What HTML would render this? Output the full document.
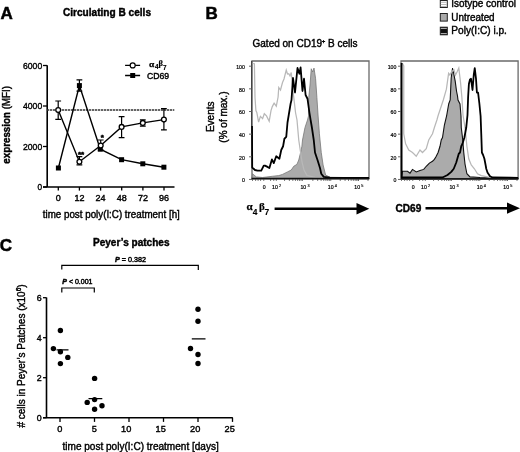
<!DOCTYPE html>
<html><head><meta charset="utf-8"><style>
html,body{margin:0;padding:0;background:#fff;}
svg{display:block;font-family:"Liberation Sans",sans-serif;will-change:transform;stroke-width:0.4px;}
text{stroke:#000;}
text.nb{stroke:none;}
</style></head><body>
<svg width="520" height="452" viewBox="0 0 520 452">
<rect width="520" height="452" fill="#fff"/>
<text x="0.4" y="18.6" font-size="17" font-weight="bold" stroke-width="0.5">A</text>
<text x="63" y="15.5" font-size="10" font-weight="bold" textLength="88" lengthAdjust="spacingAndGlyphs">Circulating B cells</text>
<path d="M47.2 65.3 V187 M43 187 H174.5" stroke="#000" stroke-width="1.6" fill="none"/>
<path d="M43 65.50 H47" stroke="#000" stroke-width="1.3"/>
<text x="23.00" y="68.90" font-size="9.8" textLength="19.2" lengthAdjust="spacingAndGlyphs">6000</text>
<path d="M43 106.00 H47" stroke="#000" stroke-width="1.3"/>
<text x="23.00" y="109.40" font-size="9.8" textLength="19.2" lengthAdjust="spacingAndGlyphs">4000</text>
<path d="M43 146.50 H47" stroke="#000" stroke-width="1.3"/>
<text x="23.00" y="149.90" font-size="9.8" textLength="19.2" lengthAdjust="spacingAndGlyphs">2000</text>
<path d="M43 187.00 H47" stroke="#000" stroke-width="1.3"/>
<text x="37.60" y="190.40" font-size="9.8" textLength="4.6" lengthAdjust="spacingAndGlyphs">0</text>
<path d="M58.3 187 V190.6" stroke="#000" stroke-width="1.3"/>
<text x="58.3" y="200.8" font-size="9" text-anchor="middle">0</text>
<path d="M79.4 187 V190.6" stroke="#000" stroke-width="1.3"/>
<text x="79.4" y="200.8" font-size="9" text-anchor="middle">12</text>
<path d="M100.6 187 V190.6" stroke="#000" stroke-width="1.3"/>
<text x="100.6" y="200.8" font-size="9" text-anchor="middle">24</text>
<path d="M121.7 187 V190.6" stroke="#000" stroke-width="1.3"/>
<text x="121.7" y="200.8" font-size="9" text-anchor="middle">48</text>
<path d="M142.9 187 V190.6" stroke="#000" stroke-width="1.3"/>
<text x="142.9" y="200.8" font-size="9" text-anchor="middle">72</text>
<path d="M164.0 187 V190.6" stroke="#000" stroke-width="1.3"/>
<text x="164.0" y="200.8" font-size="9" text-anchor="middle">96</text>
<text x="42.8" y="217.6" font-size="10" textLength="137" lengthAdjust="spacingAndGlyphs">time post poly(I:C) treatment [h]</text>
<text transform="translate(9.6,163.7) rotate(-90)" font-size="10" font-weight="bold" textLength="77.7" lengthAdjust="spacingAndGlyphs">expression <tspan font-weight="normal">(MFI)</tspan></text>
<path d="M47 110 H174.3" stroke="#333" stroke-width="1.5" stroke-dasharray="2.3 0.7" fill="none"/>
<polyline points="58.20,110.00 79.40,161.70 100.70,145.50 121.60,126.90 142.80,122.90 163.90,119.60" fill="none" stroke="#000" stroke-width="1.4"/>
<polyline points="58.40,168.00 79.40,85.60 100.30,149.20 121.60,159.70 142.80,163.80 163.90,167.20" fill="none" stroke="#000" stroke-width="1.4"/>
<path d="M58.2 101 V119.3 M55.300000000000004 101 H61.1 M55.300000000000004 119.3 H61.1" stroke="#000" stroke-width="1.2" fill="none"/>
<path d="M79.4 156.7 V164.8 M76.5 156.7 H82.30000000000001 M76.5 164.8 H82.30000000000001" stroke="#000" stroke-width="1.2" fill="none"/>
<path d="M100.7 140 V150 M97.8 140 H103.60000000000001 M97.8 150 H103.60000000000001" stroke="#000" stroke-width="1.2" fill="none"/>
<path d="M121.6 116.6 V137.6 M118.69999999999999 116.6 H124.5 M118.69999999999999 137.6 H124.5" stroke="#000" stroke-width="1.2" fill="none"/>
<path d="M142.8 119.9 V126.2 M139.9 119.9 H145.70000000000002 M139.9 126.2 H145.70000000000002" stroke="#000" stroke-width="1.2" fill="none"/>
<path d="M163.9 108.6 V129.9 M161.0 108.6 H166.8 M161.0 129.9 H166.8" stroke="#000" stroke-width="1.2" fill="none"/>
<path d="M79.4 79.8 V91.2 M76.5 79.8 H82.30000000000001 M76.5 91.2 H82.30000000000001" stroke="#000" stroke-width="1.2" fill="none"/>
<rect x="55.9" y="165.5" width="5" height="5" fill="#000"/>
<rect x="76.9" y="83.1" width="5" height="5" fill="#000"/>
<rect x="97.8" y="146.7" width="5" height="5" fill="#000"/>
<rect x="119.1" y="157.2" width="5" height="5" fill="#000"/>
<rect x="140.3" y="161.3" width="5" height="5" fill="#000"/>
<rect x="161.4" y="164.7" width="5" height="5" fill="#000"/>
<circle cx="58.2" cy="110.0" r="2.4" fill="#fff" stroke="#000" stroke-width="1.3"/>
<circle cx="79.4" cy="161.7" r="2.4" fill="#fff" stroke="#000" stroke-width="1.3"/>
<circle cx="100.7" cy="145.5" r="2.4" fill="#fff" stroke="#000" stroke-width="1.3"/>
<circle cx="121.6" cy="126.9" r="2.4" fill="#fff" stroke="#000" stroke-width="1.3"/>
<circle cx="142.8" cy="122.9" r="2.4" fill="#fff" stroke="#000" stroke-width="1.3"/>
<circle cx="163.9" cy="119.6" r="2.4" fill="#fff" stroke="#000" stroke-width="1.3"/>
<text x="81.1" y="156.6" font-size="8" font-weight="bold" stroke-width="0.5" text-anchor="middle">**</text>
<text x="102.2" y="139.5" font-size="8" font-weight="bold" stroke-width="0.5" text-anchor="middle">*</text>
<path d="M125.1 65.4 H140.1 M125.1 75.5 H140.1" stroke="#000" stroke-width="1.3"/>
<circle cx="132.7" cy="65.4" r="2.5" fill="#fff" stroke="#000" stroke-width="1.2"/>
<rect x="130.2" y="73" width="5" height="5" fill="#000"/>
<text x="148.9" y="66.6" font-size="7.6" font-family="Liberation Serif" font-weight="bold" stroke-width="0.25" textLength="5.3" lengthAdjust="spacingAndGlyphs">&#945;</text><text x="155.0" y="69.2" font-size="6.4" font-weight="bold" stroke-width="0.15">4</text><text x="158.6" y="66.2" font-size="8.5" font-family="Liberation Serif" font-weight="bold" stroke-width="0.15">&#946;</text><text x="163.0" y="69.5" font-size="6.4" font-weight="bold" stroke-width="0.15">7</text>
<text x="147" y="78.6" font-size="8.6" textLength="22.2" lengthAdjust="spacingAndGlyphs">CD69</text>
<text x="205.6" y="18.6" font-size="17" font-weight="bold" stroke-width="0.5">B</text>
<text x="252.5" y="47" font-size="10" textLength="105" lengthAdjust="spacingAndGlyphs">Gated on CD19<tspan font-size="5.5" dy="-4.3">+</tspan><tspan dy="4.3"> B cells</tspan></text>
<text transform="translate(214.4,116.8) rotate(-90)" font-size="10" text-anchor="middle">Events</text>
<text transform="translate(226.6,117.1) rotate(-90)" font-size="10" text-anchor="middle">(% of max.)</text>
<rect x="440.3" y="0.5" width="7" height="7" fill="#fff" stroke="#222" stroke-width="1"/>
<path d="M440.8 2.3 H446.8 M440.8 4.5 H446.8 M440.8 6.5 H446.8" stroke="#bbb" stroke-width="1"/>
<rect x="440.3" y="13.5" width="7" height="7.6" fill="#aaa" stroke="#222" stroke-width="1"/>
<rect x="440.3" y="27.2" width="7" height="7.6" fill="#111" stroke="#222" stroke-width="1"/>
<path d="M440.8 28.5 H446.8 M440.8 33.5 H446.8" stroke="#aaa" stroke-width="1"/>
<text x="451.3" y="7.0" font-size="10" textLength="64.6" lengthAdjust="spacingAndGlyphs">Isotype control</text>
<text x="451.3" y="21.2" font-size="10" textLength="43.3" lengthAdjust="spacingAndGlyphs">Untreated</text>
<text x="451.3" y="34.3" font-size="10" textLength="55.6" lengthAdjust="spacingAndGlyphs">Poly(I:C) i.p.</text>
<path d="M252.0 178.8 V61.0 H369.0 V178.8" fill="none" stroke="#6a6a6a" stroke-width="1.3"/>
<polygon points="252.00,178.80 252.50,173.75 256.25,176.90 262.50,177.50 272.50,176.25 278.75,175.60 282.50,174.40 287.50,171.90 291.25,170.00 293.75,166.25 296.90,164.40 298.75,160.00 300.60,152.50 301.90,146.25 302.50,140.00 305.00,127.50 307.50,120.00 308.50,116.00 308.75,97.50 310.00,85.00 311.25,68.75 312.70,72.00 314.00,68.10 315.60,78.75 316.90,97.50 318.10,116.00 319.40,133.75 321.25,152.50 323.10,165.00 325.60,175.00 330.00,177.25 369.00,178.00 369.00,178.80" fill="#ababab" stroke="#777" stroke-width="0.8"/>
<polyline points="252.30,63.50 254.40,63.75 255.00,97.50 255.90,110.60 256.80,112.40 258.60,122.10 260.40,116.40 262.60,118.60 264.30,113.70 266.50,115.90 269.20,121.20 271.00,110.60 272.30,106.60 274.10,103.10 276.30,106.20 278.10,97.00 278.75,87.50 280.50,90.00 282.50,82.50 284.00,79.00 286.25,70.00 287.50,74.00 288.75,73.75 290.00,76.00 291.25,72.50 293.00,91.00 295.60,113.00 297.00,120.00 298.75,140.00 300.60,152.50 302.00,162.00 304.00,170.00 307.00,175.50 315.00,177.30 369.00,177.60" fill="none" stroke="#b8b8b8" stroke-width="1.25"/>
<polyline points="252.00,126.00 252.20,167.50 255.00,170.00 257.50,170.60 261.25,170.60 263.75,165.60 265.00,165.60 267.50,166.90 269.40,168.10 271.90,159.40 273.75,163.10 276.25,156.25 279.40,158.75 281.25,150.00 283.10,146.25 284.40,138.75 286.25,136.90 287.50,122.50 288.75,115.00 290.60,103.75 291.50,100.00 293.00,78.00 295.00,92.50 297.50,68.00 299.40,73.75 300.60,67.50 302.50,91.00 304.00,78.75 305.60,95.00 307.50,98.75 309.40,112.50 310.60,120.00 311.90,127.50 313.75,140.00 315.00,152.50 317.50,160.00 320.00,168.00 321.25,173.75 323.75,176.90 330.00,177.60 369.00,177.80" fill="none" stroke="#000" stroke-width="1.8" stroke-linejoin="round"/>
<path d="M251.6 126 V61" stroke="#444" stroke-width="1.2"/>
<path d="M251.5 178.6 H369.3" stroke="#111" stroke-width="1.6"/>
<path d="M401.0 178.8 V61.0 H518.1 V178.8" fill="none" stroke="#6a6a6a" stroke-width="1.3"/>
<polygon points="401.50,178.80 402.50,171.25 407.50,171.25 410.00,173.10 412.50,169.40 416.25,171.90 420.00,170.60 423.75,169.40 426.25,166.25 429.40,163.10 432.50,161.25 434.40,159.40 436.25,156.25 438.10,152.50 440.00,146.25 441.25,140.00 442.50,137.50 444.40,125.00 446.60,116.00 448.75,103.75 450.20,100.00 450.80,86.50 451.20,77.70 452.60,68.00 454.00,75.00 455.20,81.20 456.50,91.00 457.50,96.00 458.00,100.00 460.00,104.00 461.00,116.00 461.25,127.50 462.50,137.50 463.75,152.50 465.00,164.00 466.90,173.75 470.00,176.90 480.00,177.50 518.00,178.00 518.00,178.80" fill="#ababab" stroke="#111" stroke-width="1.1"/>
<polyline points="402.30,63.00 403.75,66.00 403.75,133.75 405.60,143.75 408.75,150.00 412.50,152.50 416.25,156.25 420.00,150.00 422.50,152.50 426.25,148.75 428.75,140.00 432.50,133.75 434.40,127.50 436.90,120.00 438.00,116.00 443.30,100.00 446.40,89.20 448.60,73.30 449.90,75.00 451.50,72.00 453.90,69.70 455.50,75.00 457.00,72.00 458.80,68.00 460.50,82.10 461.90,97.50 463.00,115.00 465.00,127.50 466.90,146.25 468.75,158.75 471.25,165.00 474.40,168.75 477.50,173.75 481.25,175.60 490.00,177.30 518.00,177.60" fill="none" stroke="#b8b8b8" stroke-width="1.25"/>
<polyline points="401.60,63.00 401.60,177.50 442.50,177.50 447.50,175.00 451.25,171.90 453.75,168.75 456.25,162.50 458.75,153.75 460.00,152.50 461.25,146.25 462.50,143.75 464.40,137.50 466.25,127.50 467.50,115.00 468.10,97.50 468.90,84.00 470.00,79.40 471.00,78.75 472.50,90.00 473.75,75.00 474.75,68.10 476.00,78.75 476.90,92.50 478.10,92.75 479.40,103.75 480.60,116.00 481.25,133.75 481.90,152.50 483.10,155.00 484.40,158.75 485.60,165.00 486.25,168.75 487.50,172.50 490.00,176.25 492.50,177.50 518.00,177.80" fill="none" stroke="#000" stroke-width="1.8" stroke-linejoin="round"/>
<path d="M400.5 179 H518.4" stroke="#111" stroke-width="1.6"/>
<text x="244.8" y="69.10" font-size="5.2" stroke-width="0.2" text-anchor="end">100</text>
<path d="M249.0 66.20 H252.0" stroke="#555" stroke-width="0.9"/>
<text x="244.8" y="91.75" font-size="5.2" stroke-width="0.2" text-anchor="end">80</text>
<path d="M249.0 88.85 H252.0" stroke="#555" stroke-width="0.9"/>
<text x="244.8" y="114.40" font-size="5.2" stroke-width="0.2" text-anchor="end">60</text>
<path d="M249.0 111.50 H252.0" stroke="#555" stroke-width="0.9"/>
<text x="244.8" y="137.05" font-size="5.2" stroke-width="0.2" text-anchor="end">40</text>
<path d="M249.0 134.15 H252.0" stroke="#555" stroke-width="0.9"/>
<text x="244.8" y="159.70" font-size="5.2" stroke-width="0.2" text-anchor="end">20</text>
<path d="M249.0 156.80 H252.0" stroke="#555" stroke-width="0.9"/>
<text x="244.8" y="182.35" font-size="5.2" stroke-width="0.2" text-anchor="end">0</text>
<path d="M249.0 179.45 H252.0" stroke="#555" stroke-width="0.9"/>
<text x="396.3" y="69.10" font-size="5.2" stroke-width="0.2" text-anchor="end">100</text>
<path d="M398.0 66.20 H401.0" stroke="#555" stroke-width="0.9"/>
<text x="396.3" y="91.75" font-size="5.2" stroke-width="0.2" text-anchor="end">80</text>
<path d="M398.0 88.85 H401.0" stroke="#555" stroke-width="0.9"/>
<text x="396.3" y="114.40" font-size="5.2" stroke-width="0.2" text-anchor="end">60</text>
<path d="M398.0 111.50 H401.0" stroke="#555" stroke-width="0.9"/>
<text x="396.3" y="137.05" font-size="5.2" stroke-width="0.2" text-anchor="end">40</text>
<path d="M398.0 134.15 H401.0" stroke="#555" stroke-width="0.9"/>
<text x="396.3" y="159.70" font-size="5.2" stroke-width="0.2" text-anchor="end">20</text>
<path d="M398.0 156.80 H401.0" stroke="#555" stroke-width="0.9"/>
<text x="396.3" y="182.35" font-size="5.2" stroke-width="0.2" text-anchor="end">0</text>
<path d="M398.0 179.45 H401.0" stroke="#555" stroke-width="0.9"/>
<text x="264.20" y="189.4" font-size="5.2" stroke-width="0.2" text-anchor="middle">0</text>
<text x="275.00" y="189.4" font-size="5.2" stroke-width="0.2" text-anchor="middle">10</text>
<text x="279.10" y="186.6" font-size="3.8" stroke-width="0.15">2</text>
<text x="303.30" y="189.4" font-size="5.2" stroke-width="0.2" text-anchor="middle">10</text>
<text x="307.40" y="186.6" font-size="3.8" stroke-width="0.15">3</text>
<text x="330.70" y="189.4" font-size="5.2" stroke-width="0.2" text-anchor="middle">10</text>
<text x="334.80" y="186.6" font-size="3.8" stroke-width="0.15">4</text>
<text x="357.20" y="189.4" font-size="5.2" stroke-width="0.2" text-anchor="middle">10</text>
<text x="361.30" y="186.6" font-size="3.8" stroke-width="0.15">5</text>
<path d="M252.50 179 V181" stroke="#444" stroke-width="0.7"/>
<path d="M255.60 179 V181" stroke="#444" stroke-width="0.7"/>
<path d="M258.10 179 V181" stroke="#444" stroke-width="0.7"/>
<path d="M260.60 179 V181" stroke="#444" stroke-width="0.7"/>
<path d="M263.75 179 V181" stroke="#444" stroke-width="0.7"/>
<path d="M270.60 179 V181" stroke="#444" stroke-width="0.7"/>
<path d="M273.75 179 V181" stroke="#444" stroke-width="0.7"/>
<path d="M276.30 179 V181" stroke="#444" stroke-width="0.7"/>
<path d="M284.55 179 V181" stroke="#444" stroke-width="0.7"/>
<path d="M289.37 179 V181" stroke="#444" stroke-width="0.7"/>
<path d="M292.80 179 V181" stroke="#444" stroke-width="0.7"/>
<path d="M295.45 179 V181" stroke="#444" stroke-width="0.7"/>
<path d="M297.62 179 V181" stroke="#444" stroke-width="0.7"/>
<path d="M299.46 179 V181" stroke="#444" stroke-width="0.7"/>
<path d="M301.04 179 V181" stroke="#444" stroke-width="0.7"/>
<path d="M302.45 179 V181" stroke="#444" stroke-width="0.7"/>
<path d="M312.85 179 V181" stroke="#444" stroke-width="0.7"/>
<path d="M317.67 179 V181" stroke="#444" stroke-width="0.7"/>
<path d="M321.10 179 V181" stroke="#444" stroke-width="0.7"/>
<path d="M323.75 179 V181" stroke="#444" stroke-width="0.7"/>
<path d="M325.92 179 V181" stroke="#444" stroke-width="0.7"/>
<path d="M327.76 179 V181" stroke="#444" stroke-width="0.7"/>
<path d="M329.34 179 V181" stroke="#444" stroke-width="0.7"/>
<path d="M330.75 179 V181" stroke="#444" stroke-width="0.7"/>
<path d="M340.25 179 V181" stroke="#444" stroke-width="0.7"/>
<path d="M345.07 179 V181" stroke="#444" stroke-width="0.7"/>
<path d="M348.50 179 V181" stroke="#444" stroke-width="0.7"/>
<path d="M351.15 179 V181" stroke="#444" stroke-width="0.7"/>
<path d="M353.32 179 V181" stroke="#444" stroke-width="0.7"/>
<path d="M355.16 179 V181" stroke="#444" stroke-width="0.7"/>
<path d="M356.74 179 V181" stroke="#444" stroke-width="0.7"/>
<path d="M358.15 179 V181" stroke="#444" stroke-width="0.7"/>
<path d="M358.50 179 V181" stroke="#444" stroke-width="0.7"/>
<path d="M368.00 179 V181" stroke="#444" stroke-width="0.7"/>
<text x="413.20" y="189.4" font-size="5.2" stroke-width="0.2" text-anchor="middle">0</text>
<text x="424.00" y="189.4" font-size="5.2" stroke-width="0.2" text-anchor="middle">10</text>
<text x="428.10" y="186.6" font-size="3.8" stroke-width="0.15">2</text>
<text x="452.30" y="189.4" font-size="5.2" stroke-width="0.2" text-anchor="middle">10</text>
<text x="456.40" y="186.6" font-size="3.8" stroke-width="0.15">3</text>
<text x="479.70" y="189.4" font-size="5.2" stroke-width="0.2" text-anchor="middle">10</text>
<text x="483.80" y="186.6" font-size="3.8" stroke-width="0.15">4</text>
<text x="506.20" y="189.4" font-size="5.2" stroke-width="0.2" text-anchor="middle">10</text>
<text x="510.30" y="186.6" font-size="3.8" stroke-width="0.15">5</text>
<path d="M401.50 179 V181" stroke="#444" stroke-width="0.7"/>
<path d="M404.60 179 V181" stroke="#444" stroke-width="0.7"/>
<path d="M407.10 179 V181" stroke="#444" stroke-width="0.7"/>
<path d="M409.60 179 V181" stroke="#444" stroke-width="0.7"/>
<path d="M412.75 179 V181" stroke="#444" stroke-width="0.7"/>
<path d="M419.60 179 V181" stroke="#444" stroke-width="0.7"/>
<path d="M422.75 179 V181" stroke="#444" stroke-width="0.7"/>
<path d="M425.30 179 V181" stroke="#444" stroke-width="0.7"/>
<path d="M433.55 179 V181" stroke="#444" stroke-width="0.7"/>
<path d="M438.37 179 V181" stroke="#444" stroke-width="0.7"/>
<path d="M441.80 179 V181" stroke="#444" stroke-width="0.7"/>
<path d="M444.45 179 V181" stroke="#444" stroke-width="0.7"/>
<path d="M446.62 179 V181" stroke="#444" stroke-width="0.7"/>
<path d="M448.46 179 V181" stroke="#444" stroke-width="0.7"/>
<path d="M450.04 179 V181" stroke="#444" stroke-width="0.7"/>
<path d="M451.45 179 V181" stroke="#444" stroke-width="0.7"/>
<path d="M461.85 179 V181" stroke="#444" stroke-width="0.7"/>
<path d="M466.67 179 V181" stroke="#444" stroke-width="0.7"/>
<path d="M470.10 179 V181" stroke="#444" stroke-width="0.7"/>
<path d="M472.75 179 V181" stroke="#444" stroke-width="0.7"/>
<path d="M474.92 179 V181" stroke="#444" stroke-width="0.7"/>
<path d="M476.76 179 V181" stroke="#444" stroke-width="0.7"/>
<path d="M478.34 179 V181" stroke="#444" stroke-width="0.7"/>
<path d="M479.75 179 V181" stroke="#444" stroke-width="0.7"/>
<path d="M489.25 179 V181" stroke="#444" stroke-width="0.7"/>
<path d="M494.07 179 V181" stroke="#444" stroke-width="0.7"/>
<path d="M497.50 179 V181" stroke="#444" stroke-width="0.7"/>
<path d="M500.15 179 V181" stroke="#444" stroke-width="0.7"/>
<path d="M502.32 179 V181" stroke="#444" stroke-width="0.7"/>
<path d="M504.16 179 V181" stroke="#444" stroke-width="0.7"/>
<path d="M505.74 179 V181" stroke="#444" stroke-width="0.7"/>
<path d="M507.15 179 V181" stroke="#444" stroke-width="0.7"/>
<path d="M507.50 179 V181" stroke="#444" stroke-width="0.7"/>
<path d="M517.00 179 V181" stroke="#444" stroke-width="0.7"/>
<text x="246.4" y="210.3" font-size="10.5" font-family="Liberation Serif" font-weight="bold" stroke-width="0.25" textLength="6.2" lengthAdjust="spacingAndGlyphs">&#945;</text><text x="252.8" y="214.8" font-size="8.4" font-weight="bold" stroke-width="0.15">4</text><text x="258.9" y="210.4" font-size="11" font-family="Liberation Serif" font-weight="bold" stroke-width="0.2">&#946;</text><text x="264.4" y="214.8" font-size="8.4" font-weight="bold" stroke-width="0.15">7</text>
<path d="M274.6 208.7 H358" stroke="#000" stroke-width="2.6"/>
<polygon points="356.5,203 369.3,208.7 356.5,214.5" fill="#000"/>
<text x="395.5" y="212.2" font-size="10" font-weight="bold" textLength="25.8" lengthAdjust="spacingAndGlyphs">CD69</text>
<path d="M425.5 208.2 H508" stroke="#000" stroke-width="2.6"/>
<polygon points="507,202.5 520,208.2 507,213.8" fill="#000"/>
<text x="-0.3" y="250.8" font-size="17" font-weight="bold" stroke-width="0.5">C</text>
<text x="93" y="245.8" font-size="10" font-weight="bold" textLength="76.5" lengthAdjust="spacingAndGlyphs">Peyer&#8217;s patches</text>
<path d="M46.5 297.5 V417.7 M43 417.7 H232.8" stroke="#000" stroke-width="1.6" fill="none"/>
<path d="M43 297.70 H46.5" stroke="#000" stroke-width="1.3"/>
<text x="41.6" y="300.80" font-size="8.8" text-anchor="end">6</text>
<path d="M43 337.70 H46.5" stroke="#000" stroke-width="1.3"/>
<text x="41.6" y="340.80" font-size="8.8" text-anchor="end">4</text>
<path d="M43 377.70 H46.5" stroke="#000" stroke-width="1.3"/>
<text x="41.6" y="380.80" font-size="8.8" text-anchor="end">2</text>
<path d="M43 417.70 H46.5" stroke="#000" stroke-width="1.3"/>
<text x="41.6" y="420.80" font-size="8.8" text-anchor="end">0</text>
<path d="M60.00 417.7 V421.9" stroke="#000" stroke-width="1.3"/>
<text x="62.30" y="432.4" font-size="9.2" text-anchor="end">0</text>
<path d="M94.50 417.7 V421.9" stroke="#000" stroke-width="1.3"/>
<text x="96.80" y="432.4" font-size="9.2" text-anchor="end">5</text>
<path d="M129.00 417.7 V421.9" stroke="#000" stroke-width="1.3"/>
<text x="131.30" y="432.4" font-size="9.2" text-anchor="end">10</text>
<path d="M163.50 417.7 V421.9" stroke="#000" stroke-width="1.3"/>
<text x="165.80" y="432.4" font-size="9.2" text-anchor="end">15</text>
<path d="M198.00 417.7 V421.9" stroke="#000" stroke-width="1.3"/>
<text x="200.30" y="432.4" font-size="9.2" text-anchor="end">20</text>
<path d="M232.50 417.7 V421.9" stroke="#000" stroke-width="1.3"/>
<text x="234.80" y="432.4" font-size="9.2" text-anchor="end">25</text>
<text x="62.5" y="450" font-size="10" textLength="156.3" lengthAdjust="spacingAndGlyphs">time post poly(I:C) treatment [days]</text>
<text transform="translate(24.6,427.6) rotate(-90)" font-size="10" textLength="143.2" lengthAdjust="spacingAndGlyphs"># cells in Peyer&#8217;s Patches (x10<tspan font-size="6.5" dy="-3.5">6</tspan><tspan dy="3.5">)</tspan></text>
<circle cx="60.4" cy="330.5" r="2.7" fill="#000"/>
<circle cx="53.4" cy="348.6" r="2.7" fill="#000"/>
<circle cx="60.4" cy="351.7" r="2.7" fill="#000"/>
<circle cx="67.8" cy="357.4" r="2.7" fill="#000"/>
<circle cx="60.4" cy="363.6" r="2.7" fill="#000"/>
<circle cx="94.6" cy="378.4" r="2.7" fill="#000"/>
<circle cx="87.2" cy="402.4" r="2.7" fill="#000"/>
<circle cx="94.6" cy="399.6" r="2.7" fill="#000"/>
<circle cx="102" cy="405.8" r="2.7" fill="#000"/>
<circle cx="94.6" cy="409.2" r="2.7" fill="#000"/>
<circle cx="198" cy="309.25" r="2.7" fill="#000"/>
<circle cx="198" cy="321.25" r="2.7" fill="#000"/>
<circle cx="190.5" cy="348.5" r="2.7" fill="#000"/>
<circle cx="198" cy="354.5" r="2.7" fill="#000"/>
<circle cx="198" cy="363.5" r="2.7" fill="#000"/>
<path d="M56.5 349.8 H68.5 M88.5 398.7 H102.3 M191.8 338.8 H205.5" stroke="#000" stroke-width="1.2"/>
<path d="M61.8 269.4 V265.4 H198.3 V270" stroke="#000" stroke-width="1.2" fill="none"/>
<path d="M61.8 292.4 V288 H94.3 V292.4" stroke="#000" stroke-width="1.2" fill="none"/>
<text x="115" y="262" font-size="7.2" stroke-width="0.45" textLength="31" lengthAdjust="spacingAndGlyphs"><tspan font-style="italic" font-weight="bold">P</tspan> = 0.382</text>
<text x="62.3" y="283.9" font-size="7.2" stroke-width="0.45" textLength="30.2" lengthAdjust="spacingAndGlyphs"><tspan font-style="italic" font-weight="bold">P</tspan> &lt; 0.001</text>
</svg>
</body></html>
